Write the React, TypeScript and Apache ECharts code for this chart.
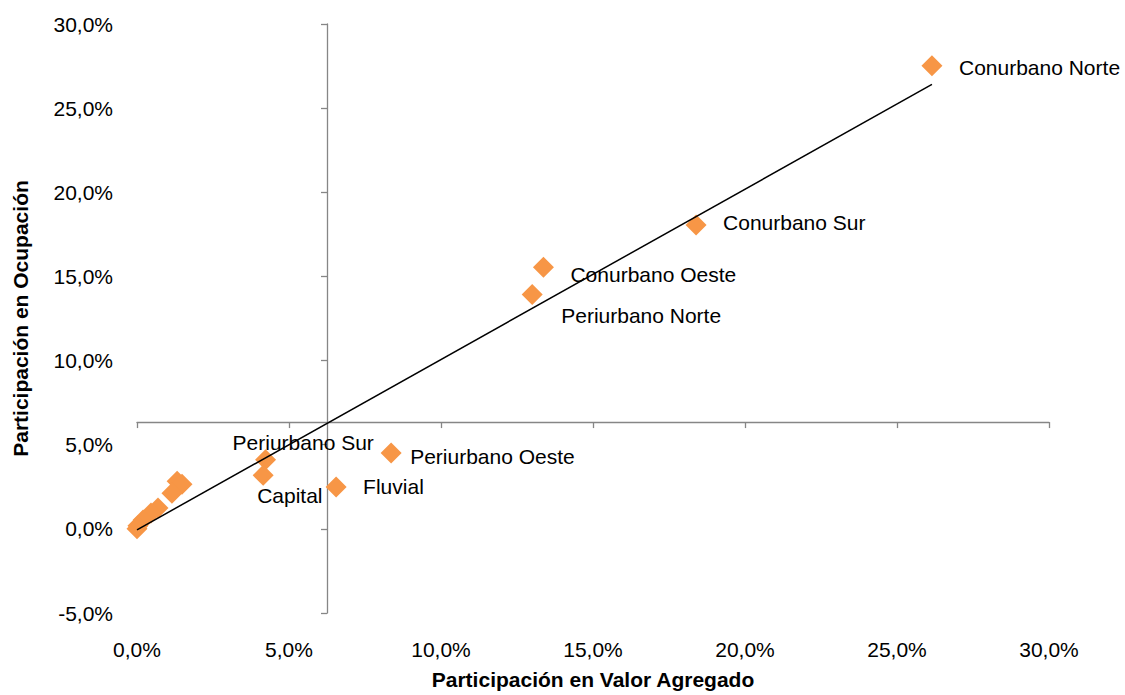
import React, { useEffect, useRef } from "react";
import * as echarts from "echarts";

// Data (percent values)
const regionNames = [
  "Conurbano Norte",
  "Conurbano Sur",
  "Conurbano Oeste",
  "Periurbano Norte",
  "Periurbano Oeste",
  "Fluvial",
  "Periurbano Sur",
  "Capital",
  "",
  "",
  "",
  "",
  "",
  "",
  "",
  "",
];
const valorAgregado = [26.15, 18.39, 13.37, 13.0, 8.36, 6.55, 4.23, 4.15, 1.32, 1.48, 1.15, 0.69, 0.46, 0.2, 0.03, 0.0];
const ocupacion = [27.52, 18.05, 15.54, 13.92, 4.51, 2.49, 4.11, 3.18, 2.83, 2.65, 2.12, 1.24, 0.94, 0.53, 0.18, 0.0];

const xTicks = { min: 0, max: 30, interval: 5 };
const yTicks = { min: -5, max: 30, interval: 5 };
const AXIS_CROSS = 6.25;

// label offsets (px) from marker centre to the label's left-middle point
const labelOffsets: [number, number][] = [
  [27, 2],
  [27, -3],
  [27, 7],
  [29, 21],
  [19, 4],
  [27, 0],
  [-33, -17],
  [-6, 20],
];

const GRID = { left: 137, right: 76, top: 24, bottom: 77 };
const W = 1125;
const H = 695;
const SYMBOL = 21;
const FONT = "'Liberation Sans', Arial, sans-serif";

const fmt = (v: number) => v.toFixed(1).replace(".", ",") + "%";

function regression(xs: number[], ys: number[]) {
  const n = xs.length;
  const mx = xs.reduce((a, b) => a + b, 0) / n;
  const my = ys.reduce((a, b) => a + b, 0) / n;
  let sxy = 0;
  let sxx = 0;
  for (let i = 0; i < n; i++) {
    sxy += (xs[i] - mx) * (ys[i] - my);
    sxx += (xs[i] - mx) * (xs[i] - mx);
  }
  const b = sxy / sxx;
  const a = my - b * mx;
  return { a, b };
}

export default function App() {
  const ref = useRef<HTMLDivElement>(null);

  useEffect(() => {
    if (!ref.current) return;
    const chart = echarts.init(ref.current, null, { renderer: "svg" });

    const cw = chart.getWidth();
    const ch = chart.getHeight();
    const gridW = cw - GRID.left - GRID.right;
    const gridH = ch - GRID.top - GRID.bottom;
    const yAxisOffset = -(gridW * (AXIS_CROSS - xTicks.min)) / (xTicks.max - xTicks.min);
    const xAxisOffset = -(gridH * (AXIS_CROSS - yTicks.min)) / (yTicks.max - yTicks.min);

    const { a, b } = regression(valorAgregado, ocupacion);
    const minX = Math.min(...valorAgregado);
    const maxX = Math.max(...valorAgregado);

    const points = valorAgregado.map((x, i) => {
      const name = regionNames[i];
      const off = labelOffsets[i];
      return {
        name,
        value: [x, ocupacion[i]],
        label: name
          ? {
              show: true,
              formatter: name,
              position: [SYMBOL / 2 + off[0], SYMBOL / 2 + off[1]],
              align: "left",
              verticalAlign: "middle",
            }
          : { show: false },
      };
    });

    const axisText = { color: "#000", fontSize: 21, fontFamily: FONT };

    chart.setOption({
      animation: false,
      backgroundColor: "#fff",
      textStyle: { fontFamily: FONT },
      grid: { ...GRID, containLabel: false },
      xAxis: [
        {
          type: "value",
          ...xTicks,
          position: "bottom",
          axisLine: { show: false },
          axisTick: { show: false },
          splitLine: { show: false },
          axisLabel: { ...axisText, margin: 26, formatter: fmt },
          name: "Participación en Valor Agregado",
          nameLocation: "middle",
          nameGap: 56,
          nameTextStyle: { ...axisText, fontWeight: "bold" },
        },
        {
          type: "value",
          ...xTicks,
          position: "bottom",
          offset: xAxisOffset,
          axisLine: { show: true, onZero: false, lineStyle: { color: "#868686", width: 1.3 } },
          axisTick: { show: true, length: 6, lineStyle: { color: "#868686", width: 1.3 } },
          splitLine: { show: false },
          axisLabel: { show: false },
        },
      ],
      yAxis: [
        {
          type: "value",
          ...yTicks,
          position: "left",
          axisLine: { show: false },
          axisTick: { show: false },
          splitLine: { show: false },
          axisLabel: { ...axisText, margin: 24, formatter: fmt },
          name: "Participación en Ocupación",
          nameLocation: "middle",
          nameRotate: 90,
          nameGap: 106,
          nameTextStyle: { ...axisText, fontWeight: "bold" },
        },
        {
          type: "value",
          ...yTicks,
          position: "left",
          offset: yAxisOffset,
          axisLine: { show: true, onZero: false, lineStyle: { color: "#868686", width: 1.3 } },
          axisTick: { show: true, length: 6, lineStyle: { color: "#868686", width: 1.3 } },
          splitLine: { show: false },
          axisLabel: { show: false },
        },
      ],
      series: [
        {
          type: "scatter",
          xAxisIndex: 0,
          yAxisIndex: 0,
          symbol: "diamond",
          symbolSize: SYMBOL,
          itemStyle: { color: "#F79646", opacity: 1 },
          label: { color: "#000", fontSize: 21, fontFamily: FONT },
          emphasis: { disabled: true },
          data: points,
          z: 2,
        },
        {
          type: "line",
          xAxisIndex: 0,
          yAxisIndex: 0,
          symbol: "none",
          lineStyle: { color: "#000", width: 1.5 },
          data: [
            [minX, a + b * minX],
            [maxX, a + b * maxX],
          ],
          silent: true,
          z: 3,
        },
      ],
    });

    return () => chart.dispose();
  }, []);

  return (
    <div
      ref={ref}
      style={{ position: "fixed", left: 0, top: 0, width: W, height: H }}
    />
  );
}
